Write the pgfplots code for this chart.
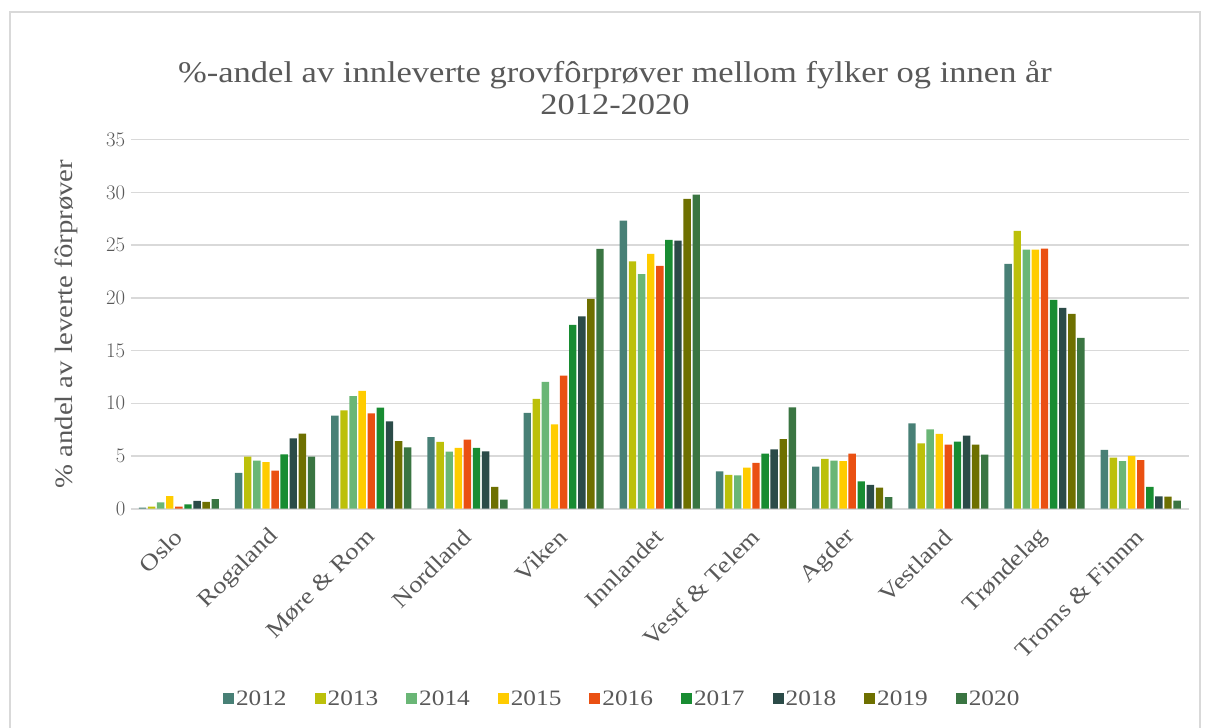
\documentclass[border=0pt]{standalone}
\usepackage{pgfplots}
\pgfplotsset{compat=1.18}
\usepackage{fontspec}
\setmainfont[FakeStretch=1.15]{Liberation Serif}
\definecolor{c12}{RGB}{72,128,118}
\definecolor{c13}{RGB}{188,192,10}
\definecolor{c14}{RGB}{106,182,118}
\definecolor{c15}{RGB}{255,204,0}
\definecolor{c16}{RGB}{234,80,18}
\definecolor{c17}{RGB}{24,140,50}
\definecolor{c18}{RGB}{43,75,72}
\definecolor{c19}{RGB}{110,112,0}
\definecolor{c20}{RGB}{58,117,66}
\definecolor{txt}{RGB}{89,89,89}
\definecolor{grd}{RGB}{217,217,217}
\begin{document}
\begin{tikzpicture}[x=1pt,y=1pt]
\useasboundingbox (0,0) rectangle (1208,728);
\fill[white] (0,0) rectangle (1208,728);
\draw[grd, line width=1.5pt] (10,-20) rectangle (1200,716);
\node[text=txt, font=\fontsize{30}{32}\selectfont, align=center] at (615,640)
  {\%-andel av innleverte grovfôrprøver mellom fylker og innen år\\2012-2020};
\begin{axis}[
  at={(136,208)}, anchor=south west,
  scale only axis, width=1058pt, height=369pt,
  ymin=0, ymax=35, ytick={0,5,...,35},
  xmin=-0.5, xmax=10.5, xtick={0,...,10},
  xticklabels={Oslo,Rogaland,Møre \& Rom,Nordland,Viken,Innlandet,Vestf \& Telem,Agder,Vestland,Trøndelag,Troms \& Finnm},
  axis line style={draw=none},
  major tick length=0pt,
  ymajorgrids, grid style={grd, line width=1.3pt},
  extra y ticks={0}, extra y tick labels={},
  extra y tick style={grid style={grd, line width=2pt}},
  yticklabel style={font=\fontsize{22}{24}\selectfont, text=txt, xshift=-2pt},
  xticklabel style={font=\fontsize{23}{26}\selectfont, text=txt, yshift=-22pt, xshift=2pt, rotate=45, anchor=east},
  ylabel={\% andel av leverte fôrprøver},
  every axis y label/.style={at={(axis description cs:-0.061,0.5)}, rotate=90, anchor=center, font=\fontsize{25}{28}\selectfont, text=txt},
  ybar=1.7pt, bar width=7.4pt,
  legend columns=9,
  legend style={at={(axis description cs:0.4645,-0.515)}, anchor=center, draw=none, fill=none,
    font=\fontsize{22}{24}\selectfont, text=txt,
    /tikz/every even column/.append style={column sep=26pt}},
  legend image code/.code={\fill[#1] (0pt,-5.5pt) rectangle (11pt,5.5pt);},
]
\addplot[fill=c12, draw=none] coordinates {(0,0.1) (1,3.40) (2,8.82) (3,6.80) (4,9.08) (5,27.32) (6,3.55) (7,3.98) (8,8.10) (9,23.22) (10,5.57)};
\addplot[fill=c13, draw=none] coordinates {(0,0.2) (1,4.95) (2,9.33) (3,6.33) (4,10.41) (5,23.47) (6,3.20) (7,4.72) (8,6.20) (9,26.35) (10,4.84)};
\addplot[fill=c14, draw=none] coordinates {(0,0.6) (1,4.57) (2,10.69) (3,5.41) (4,12.02) (5,22.24) (6,3.17) (7,4.55) (8,7.53) (9,24.57) (10,4.52)};
\addplot[fill=c15, draw=none] coordinates {(0,1.2) (1,4.43) (2,11.17) (3,5.76) (4,8.01) (5,24.16) (6,3.89) (7,4.52) (8,7.09) (9,24.57) (10,5.00)};
\addplot[fill=c16, draw=none] coordinates {(0,0.2) (1,3.62) (2,9.05) (3,6.55) (4,12.62) (5,23.03) (6,4.34) (7,5.22) (8,6.07) (9,24.67) (10,4.62)};
\addplot[fill=c17, draw=none] coordinates {(0,0.4) (1,5.16) (2,9.58) (3,5.76) (4,17.43) (5,25.49) (6,5.22) (7,2.60) (8,6.36) (9,19.80) (10,2.06)};
\addplot[fill=c18, draw=none] coordinates {(0,0.75) (1,6.67) (2,8.29) (3,5.44) (4,18.25) (5,25.43) (6,5.63) (7,2.25) (8,6.93) (9,19.04) (10,1.18)};
\addplot[fill=c19, draw=none] coordinates {(0,0.65) (1,7.11) (2,6.42) (3,2.06) (4,19.90) (5,29.38) (6,6.61) (7,1.99) (8,6.07) (9,18.47) (10,1.15)};
\addplot[fill=c20, draw=none] coordinates {(0,0.9) (1,4.95) (2,5.82) (3,0.85) (4,24.64) (5,29.79) (6,9.62) (7,1.11) (8,5.12) (9,16.20) (10,0.76)};
\legend{2012,2013,2014,2015,2016,2017,2018,2019,2020}
\end{axis}
\end{tikzpicture}
\end{document}
